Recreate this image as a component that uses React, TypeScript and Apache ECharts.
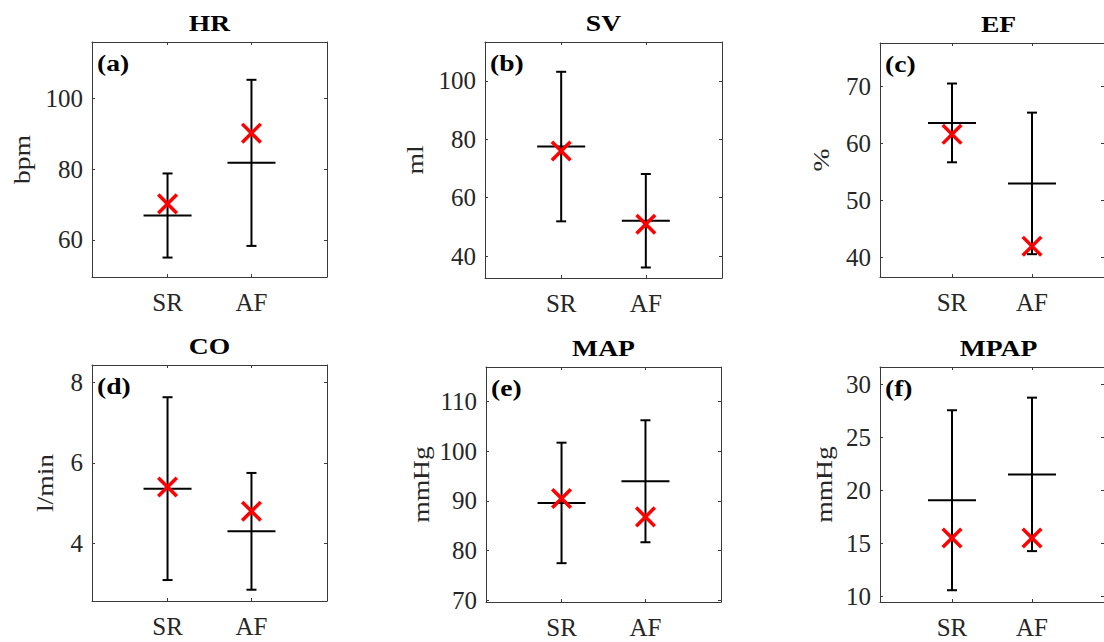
import React, { useEffect, useRef } from "react";
import * as echarts from "echarts";

// ---- data ----
const categories = ["SR", "AF"];
const panelTitles = ["HR", "SV", "EF", "CO", "MAP", "MPAP"];
const panelTags = ["(a)", "(b)", "(c)", "(d)", "(e)", "(f)"];
const yUnits = ["bpm", "ml", "%", "l/min", "mmHg", "mmHg"];

const srMean = [66.9, 77.5, 63.6, 5.36, 89.6, 19.06];
const srSD = [11.9, 25.6, 6.9, 2.27, 12.1, 8.49];
const srMarker = [70.2, 76.0, 61.6, 5.4, 90.5, 15.5];

const afMean = [81.8, 52.1, 53.0, 4.3, 93.95, 21.5];
const afSD = [23.5, 16.0, 12.4, 1.45, 12.25, 7.24];
const afMarker = [90.2, 50.9, 42.0, 4.8, 86.8, 15.5];

const yMin = [49.5, 32.5, 36.6, 2.57, 69.7, 9.46];
const yMax = [116, 113.3, 77.6, 8.43, 116.9, 31.63];
const yTicks = [
  [60, 80, 100],
  [40, 60, 80, 100],
  [40, 50, 60, 70],
  [4, 6, 8],
  [70, 80, 90, 100, 110],
  [10, 15, 20, 25, 30],
];
const xTicks = [1, 2];

// ---- layout (pixels) ----
const boxes = [
  { left: 92, top: 42, width: 235, height: 235 },
  { left: 485, top: 42, width: 237, height: 236 },
  { left: 880, top: 43, width: 237, height: 234 },
  { left: 92, top: 365, width: 235, height: 236 },
  { left: 486, top: 367, width: 235, height: 235 },
  { left: 880, top: 367, width: 237, height: 235 },
];
const unitX = [22, 415, 821, 45, 421, 824];

const FONT = "Liberation Serif";
const AXIS_COLOR = "#262626";
const LINE_COLOR = "#3a3a3a";
const TICK_FS = 25;
const TEXT_FS = 23;
const STRETCH = 1.2;

export default function App() {
  const ref = useRef<HTMLDivElement>(null);

  useEffect(() => {
    if (!ref.current) return;
    const chart = echarts.init(ref.current, undefined, { renderer: "svg" });

    const grid: any[] = [];
    const xAxis: any[] = [];
    const yAxis: any[] = [];
    const series: any[] = [];
    const graphic: any[] = [];

    boxes.forEach((b, i) => {
      grid.push({ left: b.left, top: b.top, width: b.width, height: b.height, containLabel: false });
      const xBase = {
        type: "value",
        gridIndex: i,
        min: 0.1,
        max: 2.9,
        splitLine: { show: false },
        axisLine: { show: true, onZero: false, lineStyle: { color: LINE_COLOR, width: 1 } },
        axisTick: { show: true, inside: true, length: 3, customValues: xTicks, lineStyle: { color: LINE_COLOR } },
      };
      xAxis.push({
        ...xBase,
        position: "bottom",
        axisLabel: {
          show: true,
          customValues: xTicks,
          margin: 13,
          color: AXIS_COLOR,
          fontFamily: FONT,
          fontSize: TICK_FS,
          formatter: (v: number) => categories[Math.round(v) - 1] ?? "",
        },
      });
      xAxis.push({ ...xBase, position: "top", axisLabel: { show: false } });

      const yBase = {
        type: "value",
        gridIndex: i,
        min: yMin[i],
        max: yMax[i],
        splitLine: { show: false },
        axisLine: { show: true, onZero: false, lineStyle: { color: LINE_COLOR, width: 1 } },
        axisTick: { show: true, inside: true, length: 3, customValues: yTicks[i], lineStyle: { color: LINE_COLOR } },
      };
      yAxis.push({
        ...yBase,
        position: "left",
        axisLabel: {
          show: true,
          customValues: yTicks[i],
          margin: 9,
          color: AXIS_COLOR,
          fontFamily: FONT,
          fontSize: TICK_FS,
        },
      });
      yAxis.push({ ...yBase, position: "right", axisLabel: { show: false } });

      const rows = [
        [1, srMean[i], srSD[i], srMarker[i]],
        [2, afMean[i], afSD[i], afMarker[i]],
      ];

      series.push({
        type: "custom",
        xAxisIndex: i * 2,
        yAxisIndex: i * 2,
        data: rows,
        clip: false,
        renderItem: (params: any, api: any) => {
          const x = api.value(0);
          const m = api.value(1);
          const s = api.value(2);
          const k = api.value(3);
          const top = api.coord([x, m + s]);
          const bot = api.coord([x, m - s]);
          const mid = api.coord([x, m]);
          const mk = api.coord([x, k]);
          const black = { stroke: "#000", lineWidth: 2 };
          const red = { stroke: "#ff0000", lineWidth: 3.5 };
          const cap = 5;
          const half = 24;
          const xs = 9.3;
          return {
            type: "group",
            children: [
              { type: "line", shape: { x1: top[0], y1: top[1], x2: bot[0], y2: bot[1] }, style: black },
              { type: "line", shape: { x1: top[0] - cap, y1: top[1], x2: top[0] + cap, y2: top[1] }, style: black },
              { type: "line", shape: { x1: bot[0] - cap, y1: bot[1], x2: bot[0] + cap, y2: bot[1] }, style: black },
              { type: "line", shape: { x1: mid[0] - half, y1: mid[1], x2: mid[0] + half, y2: mid[1] }, style: black },
              { type: "line", shape: { x1: mk[0] - xs, y1: mk[1] - xs, x2: mk[0] + xs, y2: mk[1] + xs }, style: red },
              { type: "line", shape: { x1: mk[0] - xs, y1: mk[1] + xs, x2: mk[0] + xs, y2: mk[1] - xs }, style: red },
            ],
          };
        },
      });

      graphic.push({
        type: "text",
        x: b.left + b.width / 2,
        y: b.top - 19,
        scaleX: STRETCH,
        style: {
          text: panelTitles[i],
          fill: "#000",
          fontFamily: FONT,
          fontSize: TEXT_FS,
          fontWeight: "bold",
          align: "center",
          verticalAlign: "middle",
        },
      });
      graphic.push({
        type: "text",
        x: b.left + 5,
        y: b.top + 21,
        scaleX: STRETCH,
        style: {
          text: panelTags[i],
          fill: "#000",
          fontFamily: FONT,
          fontSize: TEXT_FS,
          fontWeight: "bold",
          align: "left",
          verticalAlign: "middle",
        },
      });
      graphic.push({
        type: "text",
        x: unitX[i],
        y: b.top + b.height / 2,
        rotation: Math.PI / 2,
        scaleX: STRETCH,
        style: {
          text: yUnits[i],
          fill: AXIS_COLOR,
          fontFamily: FONT,
          fontSize: TEXT_FS,
          align: "center",
          verticalAlign: "middle",
        },
      });
    });

    chart.setOption({
      animation: false,
      backgroundColor: "#fff",
      textStyle: { fontFamily: FONT },
      grid,
      xAxis,
      yAxis,
      series,
      graphic,
    });

    return () => chart.dispose();
  }, []);

  return (
    <div
      ref={ref}
      style={{ position: "fixed", left: 0, top: 0, width: 1104, height: 642 }}
    />
  );
}
